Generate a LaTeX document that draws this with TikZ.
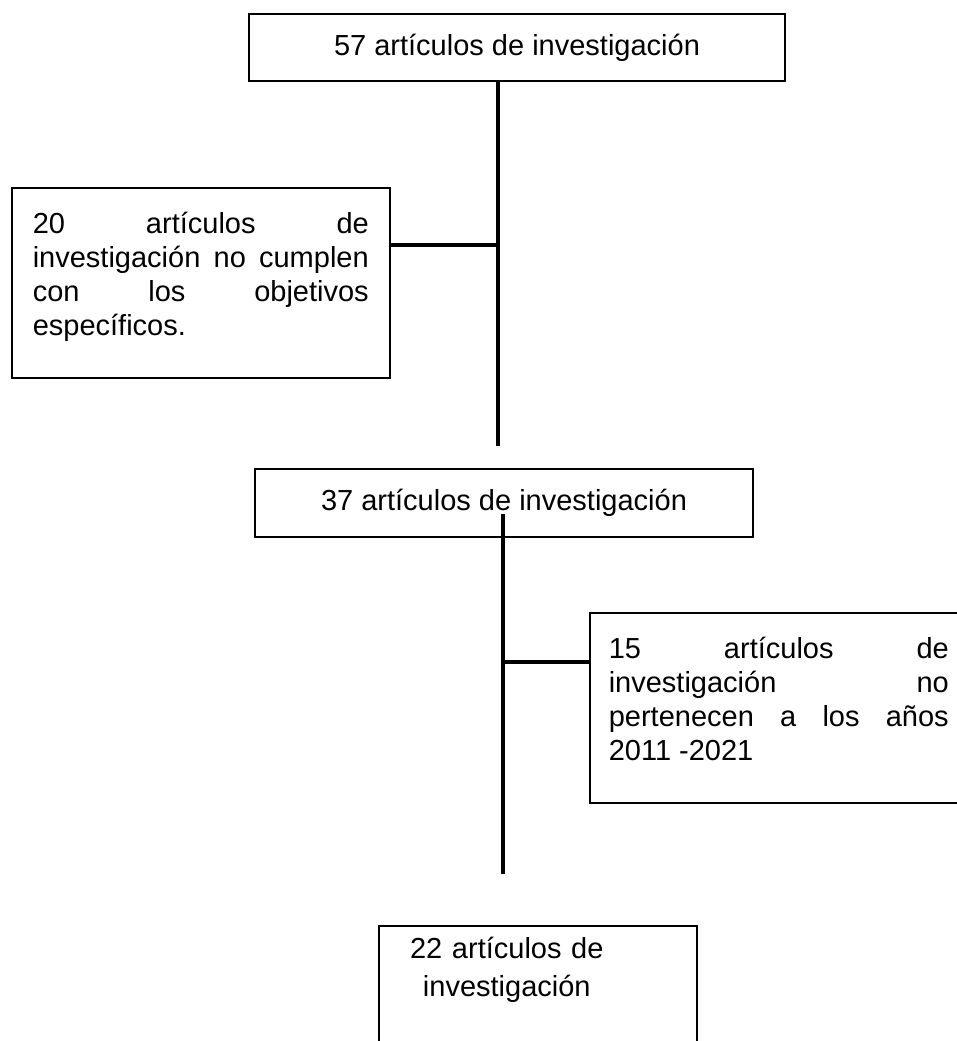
\documentclass[tikz,border=0pt]{standalone}
\usepackage{fontspec}
\setmainfont{Liberation Sans}
\usepackage{tikz}
\hyphenpenalty=10000
\tolerance=10000
\hbadness=10000

\begin{document}
\begin{tikzpicture}[x=0.5pt,y=-0.5pt,semithick]
  \tikzstyle{caja}=[draw,rectangle,line width=0.8pt,inner sep=0pt,font=\fontsize{14.5}{17}\selectfont]
  \tikzstyle{nota}=[caja,anchor=north west,inner ysep=10pt,text height=13pt,text depth=62pt,align=justify]
  \tikzstyle{linea}=[line width=2pt]

  \useasboundingbox (0,0) rectangle (957,1041);

  \node[caja,minimum width=268pt,minimum height=33.5pt] (n57) at (517,47.5) {57 artículos de investigación};
  \node[nota,text width=168pt,inner xsep=10.5pt] (n20) at (11,187) {20 artículos de\linebreak investigación no cumplen\linebreak con los objetivos\linebreak específicos.};
  \node[caja,minimum width=249pt,minimum height=34pt] (n37) at (504,503) {37 artículos de investigación};
  \node[nota,text width=170pt,inner xsep=9.5pt] (n15) at (589,612) {15 artículos de\linebreak investigación no\linebreak pertenecen a los años\linebreak 2011 -2021};
  \node[caja,anchor=north west,text width=149pt,inner xsep=5pt,inner ysep=4.5pt,text height=12pt,text depth=80pt,align=center,font=\fontsize{14.5}{19}\selectfont] (n22) at (378,925) {\hspace*{-31pt}22 artículos de\\\hspace*{-31pt}investigación};

  \coordinate (j1) at (498,245);
  \coordinate (t1) at (498,446);
  \coordinate (s2) at (503,514);
  \coordinate (j2) at (503,662);
  \coordinate (t2) at (503,874);

  \path (j1 |- n57.south) edge [linea] (t1)
        (n20.east |- j1)   edge [linea] (j1)
        (s2)               edge [linea] (t2)
        (j2)               edge [linea] (n15.west |- j2);
\end{tikzpicture}
\end{document}
